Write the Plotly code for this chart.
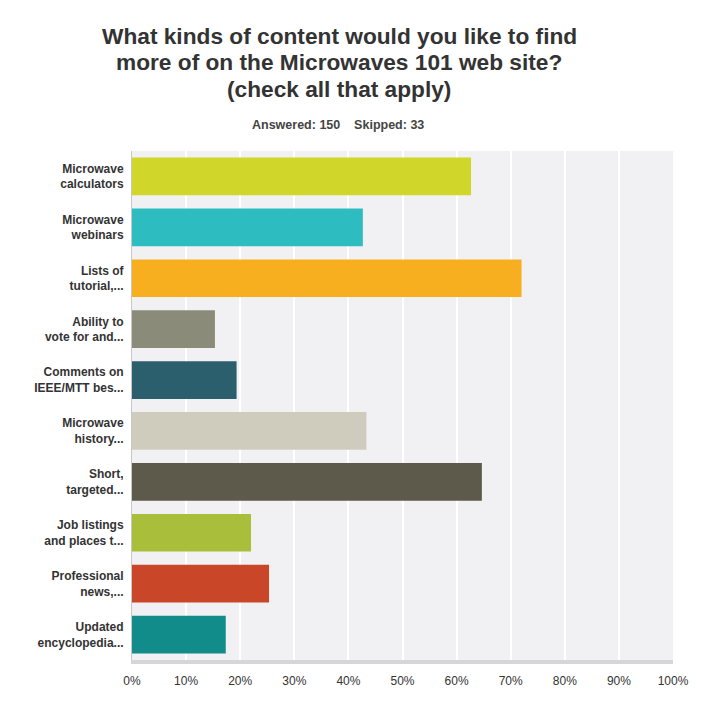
import plotly.graph_objects as go

categories = [
    "Microwave<br>calculators",
    "Microwave<br>webinars",
    "Lists of<br>tutorial,...",
    "Ability to<br>vote for and...",
    "Comments on<br>IEEE/MTT bes...",
    "Microwave<br>history...",
    "Short,<br>targeted...",
    "Job listings<br>and places t...",
    "Professional<br>news,...",
    "Updated<br>encyclopedia...",
]
percent_values = [62.67, 42.67, 72.00, 15.33, 19.33, 43.33, 64.67, 22.00, 25.33, 17.33]
bar_colors = ["#D0D62A", "#2DBDC1", "#F7AF20", "#8B8B7A", "#2B5F6D",
              "#CFCCBD", "#5D5A4B", "#A9BE3B", "#C94628", "#118C8A"]
tick_values = [0, 10, 20, 30, 40, 50, 60, 70, 80, 90, 100]
tick_labels = ["0%", "10%", "20%", "30%", "40%", "50%", "60%", "70%", "80%", "90%", "100%"]
title_lines = [
    "What kinds of content would you like to find",
    "more of on the Microwaves 101 web site?",
    "(check all that apply)",
]
subtitle_text = "Answered: 150&nbsp;&nbsp;&nbsp;&nbsp;Skipped: 33"

FONT = "Liberation Sans, Arial, sans-serif"

# figure geometry (page has an 8px body margin)
W, H = 695, 720
ML, MR, MT, MB = 124, 30, 143, 68
PW, PH = W - ML - MR, H - MT - MB


def px(xfig):
    return (xfig - ML) / PW


def py(yfig):
    return (H - MB - yfig) / PH


fig = go.Figure(
    go.Bar(
        x=percent_values,
        y=categories,
        orientation="h",
        marker=dict(color=bar_colors, line=dict(width=0)),
        hoverinfo="skip",
    )
)

annotations = []
for i, line in enumerate(title_lines):
    annotations.append(dict(
        text="<b>" + line + "</b>",
        xref="paper", yref="paper",
        x=px(331), y=py(28 + 26.3 * i),
        xanchor="center", yanchor="middle",
        showarrow=False,
        font=dict(family=FONT, size=22.7, color="#333333"),
    ))
annotations.append(dict(
    text="<b>" + subtitle_text + "</b>",
    xref="paper", yref="paper",
    x=px(330), y=py(117),
    xanchor="center", yanchor="middle",
    showarrow=False,
    font=dict(family=FONT, size=12.5, color="#444444"),
))

fig.update_layout(
    width=W,
    height=H,
    margin=dict(l=ML, r=MR, t=MT, b=MB, autoexpand=False),
    paper_bgcolor="white",
    plot_bgcolor="#F1F0F2",
    bargap=0.26,
    showlegend=False,
    font=dict(family=FONT, color="#333333"),
    annotations=annotations,
)

fig.update_xaxes(
    range=[0, 100],
    tickvals=tick_values,
    ticktext=tick_labels,
    showgrid=True,
    gridcolor="white",
    gridwidth=1.5,
    zeroline=False,
    showline=True,
    linecolor="#D6D6D6",
    linewidth=4,
    ticks="outside",
    ticklen=7,
    tickcolor="rgba(0,0,0,0)",
    tickfont=dict(family=FONT, size=12, color="#333333"),
    fixedrange=True,
)
fig.update_yaxes(
    autorange="reversed",
    showgrid=False,
    zeroline=False,
    showline=True,
    linecolor="#C8C8C8",
    linewidth=1,
    ticks="outside",
    ticklen=5,
    tickcolor="rgba(0,0,0,0)",
    tickfont=dict(family=FONT, size=12, color="#333333"),
    tickmode="array",
    tickvals=categories,
    ticktext=["<b>" + c + "</b>" for c in categories],
    fixedrange=True,
)

fig.write_html("out.html", config={"displayModeBar": False})
